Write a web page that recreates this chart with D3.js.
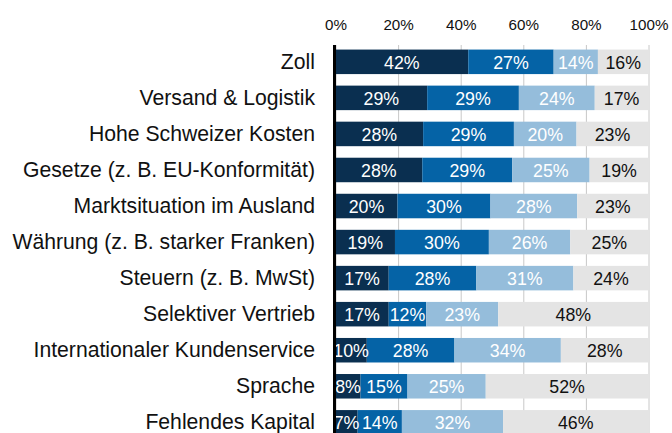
<!DOCTYPE html>
<html>
<head>
<meta charset="utf-8">
<script src="https://cdn.jsdelivr.net/npm/d3@7"></script>
<style>
  html, body { margin: 0; padding: 0; background: #fff; }
  svg { display: block; font-family: "Liberation Sans", Arial, Helvetica, sans-serif; }
</style>
</head>
<body>
<svg id="chart" width="672" height="433"></svg>
<script>
const categories = [
  "Zoll",
  "Versand & Logistik",
  "Hohe Schweizer Kosten",
  "Gesetze (z. B. EU-Konformität)",
  "Marktsituation im Ausland",
  "Währung (z. B. starker Franken)",
  "Steuern (z. B. MwSt)",
  "Selektiver Vertrieb",
  "Internationaler Kundenservice",
  "Sprache",
  "Fehlendes Kapital"
];
const seriesKeys = ["s1", "s2", "s3", "s4"];
const s1 = [42, 29, 28, 28, 20, 19, 17, 17, 10, 8, 7];
const s2 = [27, 29, 29, 29, 30, 30, 28, 12, 28, 15, 14];
const s3 = [14, 24, 20, 25, 28, 26, 31, 23, 34, 25, 32];
const s4 = [16, 17, 23, 19, 23, 25, 24, 48, 28, 52, 46];
const tickValues = [0, 0.2, 0.4, 0.6, 0.8, 1.0];

const colors = ["#0a2f50", "#0563a6", "#95bddb", "#e4e4e4"];
const textColors = ["#ffffff", "#ffffff", "#ffffff", "#111111"];

const rows = categories.map((c, i) => ({ cat: c, s1: s1[i], s2: s2[i], s3: s3[i], s4: s4[i] }));

const svg = d3.select("#chart");
const x0 = 335.5, x1 = 648.5, topY = 45;
const x = d3.scaleLinear().domain([0, 1]).range([x0, x1]);
const y = d3.scaleBand().domain(categories).range([43.8, 43.8 + 11 * 36.05]).paddingInner(0.32).paddingOuter(0.16);

const stacked = d3.stack().keys(seriesKeys).offset(d3.stackOffsetExpand)(rows);

// gridlines
const grid = svg.append("g").attr("transform", `translate(0,${topY})`)
  .call(d3.axisBottom(x).tickValues(tickValues).tickSize(433 - topY).tickFormat(""));
grid.select(".domain").remove();
grid.selectAll("line").attr("stroke", "#c8c8c8").attr("stroke-width", 1);

// tick labels
const ax = svg.append("g").attr("transform", `translate(0,${topY})`)
  .call(d3.axisTop(x).tickValues(tickValues).tickSize(0).tickPadding(15).tickFormat(d3.format(".0%")));
ax.select(".domain").remove();
ax.selectAll("text").attr("font-size", 15.2).attr("fill", "#111").attr("font-family", "Liberation Sans, Arial, sans-serif");

// bars
const layer = svg.append("g").selectAll("g").data(stacked).join("g")
  .attr("fill", (d, i) => colors[i]);
layer.selectAll("rect").data(d => d.map(v => ({ v, key: d.key }))).join("rect")
  .attr("x", d => x(d.v[0]))
  .attr("y", d => y(d.v.data.cat))
  .attr("width", d => x(d.v[1]) - x(d.v[0]))
  .attr("height", y.bandwidth());

// value labels
const lab = svg.append("g").selectAll("g").data(stacked).join("g")
  .attr("fill", (d, i) => textColors[i]);
lab.selectAll("text").data(d => d.map(v => ({ v, key: d.key }))).join("text")
  .attr("x", d => (x(d.v[0]) + x(d.v[1])) / 2)
  .attr("y", d => y(d.v.data.cat) + y.bandwidth() / 2)
  .attr("dy", "0.39em")
  .attr("text-anchor", "middle")
  .attr("font-size", 17.8)
  .text(d => d.v.data[d.key] + "%");

// axis line
svg.append("line")
  .attr("x1", x0 - 1).attr("x2", x0 - 1)
  .attr("y1", topY).attr("y2", 433)
  .attr("stroke", "#000").attr("stroke-width", 3);

// category labels
svg.append("g").selectAll("text").data(categories).join("text")
  .attr("x", 315)
  .attr("y", d => y(d) + y.bandwidth() / 2)
  .attr("dy", "0.32em")
  .attr("text-anchor", "end")
  .attr("font-size", 21.2)
  .attr("fill", "#111")
  .text(d => d);
</script>
</body>
</html>
